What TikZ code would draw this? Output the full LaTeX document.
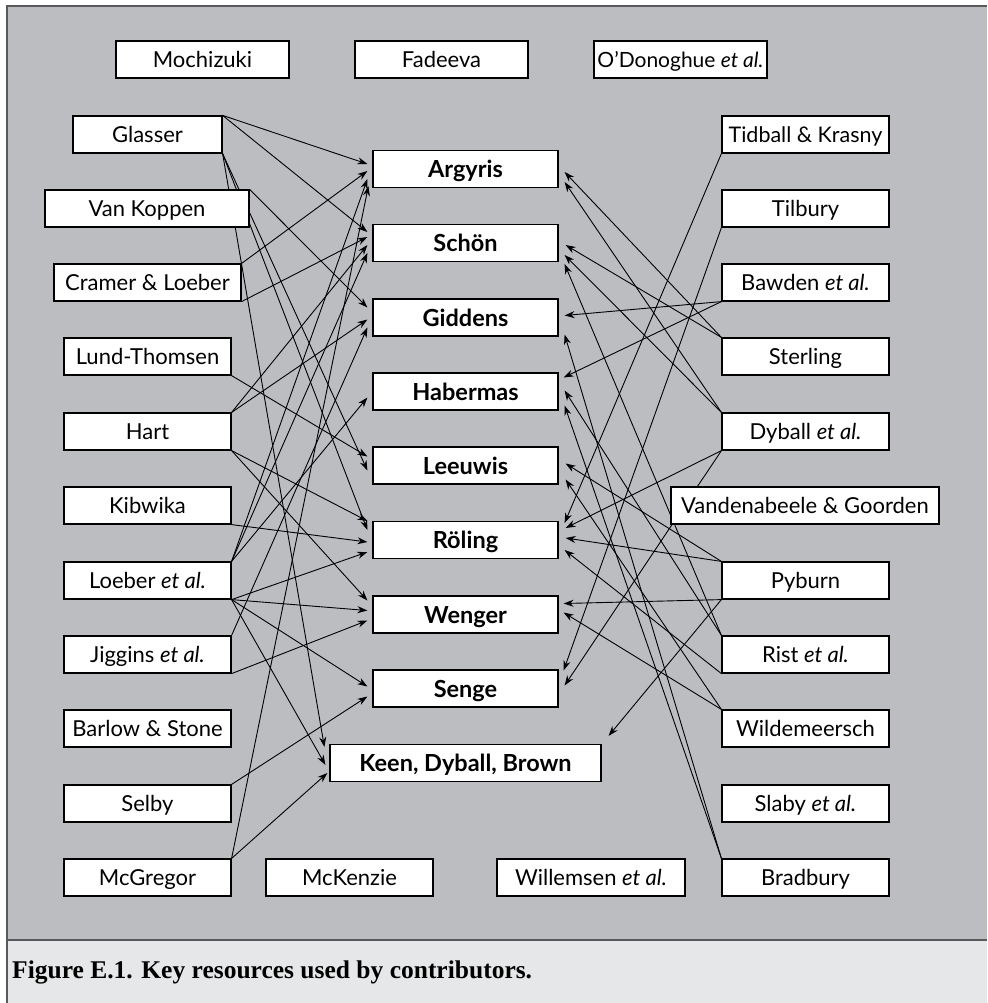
\documentclass[tikz,border=0pt]{standalone}
\usepackage{fontspec}
\setmainfont{Lato}
\newfontfamily\capfont{Liberation Serif}
\usetikzlibrary{arrows.meta,calc}
\pgfdeclarelayer{back}
\pgfdeclarelayer{edges}
\pgfsetlayers{back,edges,main}
\definecolor{panel}{HTML}{BCBDC1}
\definecolor{capbg}{HTML}{E6E7E8}
\definecolor{framec}{HTML}{58595B}
\begin{document}
\begin{tikzpicture}[x=1pt,y=-1pt,
  box/.style={draw=black, fill=white, line width=1.2pt, minimum height=37pt, inner sep=0pt,
    text height=18pt, text depth=1.5pt, font=\fontsize{22}{25}\selectfont},
  lbox/.style={box, minimum width=167pt},
  cbox/.style={box, minimum width=185pt, text height=19pt, text depth=2pt, font=\fontsize{23.5}{26}\selectfont\bfseries},
  arr/.style={-{Stealth[length=10pt,width=7pt]}, line width=0.9pt, black}]
\useasboundingbox (0,0) rectangle (987,1003);
\begin{pgfonlayer}{back}
\fill[white] (0,0) rectangle (987,1003);
\fill[panel] (7,6) rectangle (987,940);
\fill[capbg] (7,940) rectangle (987,1003);
\draw[framec, line width=1.5pt] (987,6) -- (7,6) -- (7,1003);
\draw[framec, line width=1.5pt] (7,940) -- (987,940);
\end{pgfonlayer}
\node[anchor=base west, inner sep=0pt, font=\capfont\bfseries\fontsize{25.5}{28}\selectfont] (cap) at (12,978) {Figure E.1. Key resources used by contributors.};
% top row
\node[box, minimum width=173pt] (mochi) at (202.5,59.5) {Mochizuki};
\node[box, minimum width=173pt] (fade) at (441.5,59.5) {Fadeeva};
\node[box, minimum width=173pt, font=\fontsize{21}{24}\selectfont] (odon) at (680.5,59.5) {O’Donoghue \textit{et al.}};
% left column
\node[box, minimum width=149pt] (glasser) at (147.5,134.5) {Glasser};
\node[box, minimum width=204pt] (vankoppen) at (147,208.5) {Van Koppen};
\node[box, minimum width=187pt] (cramer) at (147.5,282.5) {Cramer \& Loeber};
\node[lbox] (lund) at (147.5,356.5) {Lund-Thomsen};
\node[lbox] (hart) at (147.5,431.5) {Hart};
\node[lbox] (kibwika) at (147.5,505.5) {Kibwika};
\node[lbox] (loeber) at (147.5,580.5) {Loeber \textit{et al.}};
\node[lbox] (jiggins) at (147.5,654.5) {Jiggins \textit{et al.}};
\node[lbox] (barlow) at (147.5,728.5) {Barlow \& Stone};
\node[lbox] (selby) at (147.5,803.5) {Selby};
\node[lbox] (mcgregor) at (147.5,877.5) {McGregor};
\node[lbox] (mckenzie) at (349.5,877.5) {McKenzie};
% centre column
\node[cbox] (argyris) at (465.5,169) {Argyris};
\node[cbox] (schon) at (465.5,243) {Schön};
\node[cbox] (giddens) at (465.5,317.5) {Giddens};
\node[cbox] (habermas) at (465.5,391.5) {Habermas};
\node[cbox] (leeuwis) at (465.5,465.5) {Leeuwis};
\node[cbox] (roling) at (465.5,540) {Röling};
\node[cbox] (wenger) at (465.5,614.5) {Wenger};
\node[cbox] (senge) at (465.5,688.5) {Senge};
\node[cbox, minimum width=271pt] (keen) at (465.5,763) {Keen, Dyball, Brown};
% right column
\node[lbox, font=\fontsize{21.5}{24}\selectfont] (tidball) at (805.5,134.5) {Tidball \& Krasny};
\node[lbox] (tilbury) at (805.5,208.5) {Tilbury};
\node[lbox] (bawden) at (805.5,282.5) {Bawden \textit{et al.}};
\node[lbox] (sterling) at (805.5,356.5) {Sterling};
\node[lbox] (dyball) at (805.5,431.5) {Dyball \textit{et al.}};
\node[box, minimum width=268pt] (vanden) at (805,505.5) {Vandenabeele \& Goorden};
\node[lbox] (pyburn) at (805.5,580.5) {Pyburn};
\node[lbox] (rist) at (805.5,654.5) {Rist \textit{et al.}};
\node[lbox] (wild) at (805.5,728.5) {Wildemeersch};
\node[lbox] (slaby) at (805.5,803.5) {Slaby \textit{et al.}};
\node[lbox] (bradbury) at (805.5,877.5) {Bradbury};
\node[box, minimum width=188pt] (willemsen) at (591,877.5) {Willemsen \textit{et al.}};
\begin{pgfonlayer}{edges}
% left sources
\draw[arr] (glasser.north east) -- ($(argyris.west)+(-5,-5)$);
\draw[arr] (glasser.north east) -- ($(schon.west)+(-5,-11)$);
\draw[arr] (glasser.south east) -- ($(leeuwis.west)+(-5,5)$);
\draw[arr] (glasser.south east) -- ($(roling.west)+(-5,-10)$);
\draw[arr] (glasser.south east) -- ($(keen.west)+(-5,-16)$);
\draw[arr] (vankoppen.north east) -- ($(giddens.west)+(-5,-10)$);
\draw[arr] (cramer.north east) -- ($(argyris.west)+(-5,2)$);
\draw[arr] (cramer.south east) -- ($(schon.west)+(-5,-6)$);
\draw[arr] (lund.south east) -- ($(leeuwis.west)+(-5,-9)$);
\draw[arr] (hart.north east) -- ($(schon.west)+(-5,2)$);
\draw[arr] (hart.north east) -- ($(giddens.west)+(-5,2)$);
\draw[arr] (hart.south east) -- ($(roling.west)+(-5,-19)$);
\draw[arr] (hart.south east) -- ($(wenger.west)+(-5,-14)$);
\draw[arr] (kibwika.south east) -- ($(roling.west)+(-5,2)$);
\draw[arr] (loeber.north east) -- ($(argyris.west)+(-5,10)$);
\draw[arr] (loeber.north east) -- ($(schon.west)+(-5,10)$);
\draw[arr] (loeber.north east) -- ($(habermas.west)+(-5,6)$);
\draw[arr] (loeber.south east) -- ($(roling.west)+(-5,12)$);
\draw[arr] (loeber.south east) -- ($(wenger.west)+(-5,-4)$);
\draw[arr] (loeber.south east) -- ($(senge.west)+(-5,-2)$);
\draw[arr] (loeber.south east) -- ($(keen.west)+(-4,2)$);
\draw[arr] (jiggins.north east) -- ($(giddens.west)+(-5,10)$);
\draw[arr] (jiggins.south east) -- ($(wenger.west)+(-5,6)$);
\draw[arr] (selby.north east) -- ($(senge.west)+(-5,8)$);
\draw[arr] (mcgregor.north east) -- ($(argyris.west)+(-4,17)$);
\draw[arr] (mcgregor.north east) -- ($(keen.west)+(-2,10)$);
% right sources
\draw[arr] (tidball.south west) -- ($(roling.east)+(6,-17)$);
\draw[arr] (tilbury.south west) -- ($(senge.east)+(5,-18)$);
\draw[arr] (bawden.south west) -- ($(giddens.east)+(6,-2)$);
\draw[arr] (bawden.south west) -- ($(habermas.east)+(5,-14)$);
\draw[arr] (sterling.north west) -- ($(argyris.east)+(6,3)$);
\draw[arr] (sterling.north west) -- ($(schon.east)+(7,2)$);
\draw[arr] (dyball.north west) -- ($(argyris.east)+(6,13)$);
\draw[arr] (dyball.north west) -- ($(schon.east)+(6,12)$);
\draw[arr] (dyball.south west) -- ($(roling.east)+(7,-12)$);
\draw[arr] (dyball.south west) -- ($(senge.east)+(6,-3)$);
\draw[arr] (pyburn.north west) -- ($(leeuwis.east)+(7,-2)$);
\draw[arr] (pyburn.north west) -- ($(roling.east)+(7,-2)$);
\draw[arr] (pyburn.south west) -- ($(wenger.east)+(5,-11)$);
\draw[arr] (pyburn.south west) -- ($(keen.north east)+(7,-8)$);
\draw[arr] (rist.north west) -- ($(schon.east)+(6,21)$);
\draw[arr] (rist.north west) -- ($(habermas.east)+(6,-1)$);
\draw[arr] (rist.south west) -- ($(roling.east)+(6,10)$);
\draw[arr] (wild.north west) -- ($(leeuwis.east)+(7,14)$);
\draw[arr] (wild.north west) -- ($(wenger.east)+(5,-2)$);
\draw[arr] (bradbury.north west) -- ($(giddens.east)+(6,17)$);
\draw[arr] (bradbury.north west) -- ($(habermas.east)+(6,14)$);
\end{pgfonlayer}
\end{tikzpicture}
\end{document}
